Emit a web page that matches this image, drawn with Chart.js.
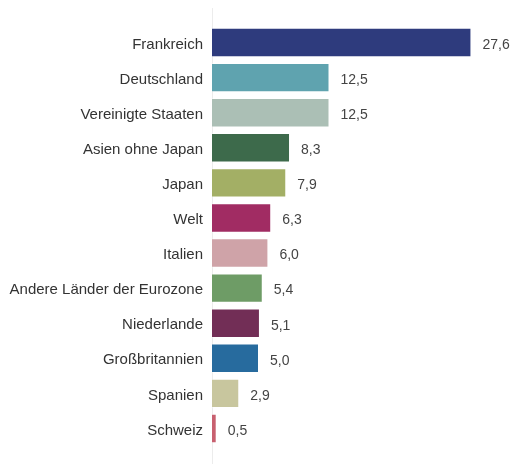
<!DOCTYPE html>
<html>
<head>
<meta charset="utf-8">
<script src="https://cdn.jsdelivr.net/npm/chart.js@4"></script>
<style>
  html, body { margin: 0; padding: 0; background: #fff; }
  #wrap { width: 511px; height: 464px; position: relative; }
</style>
</head>
<body>
<div id="wrap"><canvas id="myChart"></canvas></div>
<script>
const countries = [
  'Frankreich', 'Deutschland', 'Vereinigte Staaten', 'Asien ohne Japan', 'Japan', 'Welt',
  'Italien', 'Andere Länder der Eurozone', 'Niederlande', 'Großbritannien', 'Spanien', 'Schweiz'
];
const shares = [27.6, 12.5, 12.5, 8.3, 7.9, 6.3, 6.0, 5.4, 5.1, 5.0, 2.9, 0.5];
const barColors = [
  '#2e3b7d', '#5fa3af', '#abbfb5', '#3d6a4b', '#a3af65', '#a12c63',
  '#cfa3a8', '#6e9c66', '#722e56', '#276b9e', '#c8c69e', '#c8606f'
];

// value labels at the end of each bar, German decimal comma
const valueLabels = {
  id: 'valueLabels',
  afterDatasetsDraw(chart) {
    const ctx = chart.ctx;
    const meta = chart.getDatasetMeta(0);
    ctx.save();
    ctx.font = '14px "Liberation Sans", Arial, sans-serif';
    ctx.fillStyle = '#444';
    ctx.textBaseline = 'middle';
    meta.data.forEach((bar, i) => {
      const txt = shares[i].toFixed(1).replace('.', ',');
      ctx.fillText(txt, bar.x + 11, bar.y + 2.5);
    });
    ctx.restore();
  }
};

// thin vertical baseline running the full height
const baseline = {
  id: 'baseline',
  beforeDatasetsDraw(chart) {
    const ctx = chart.ctx;
    const x = Math.round(chart.scales.x.getPixelForValue(0)) + 0.5;
    ctx.save();
    ctx.strokeStyle = '#ececec';
    ctx.lineWidth = 1;
    ctx.beginPath();
    ctx.moveTo(x, 8);
    ctx.lineTo(x, chart.height);
    ctx.stroke();
    ctx.restore();
  }
};

new Chart(document.getElementById('myChart'), {
  type: 'bar',
  data: {
    labels: countries,
    datasets: [{
      data: shares,
      backgroundColor: barColors,
      borderColor: 'rgba(255,255,255,0.35)',
      borderWidth: 1,
      categoryPercentage: 1,
      barPercentage: 0.84
    }]
  },
  options: {
    indexAxis: 'y',
    responsive: true,
    maintainAspectRatio: false,
    animation: false,
    layout: { padding: { top: 25, bottom: 13, right: 17, left: 0 } },
    plugins: { legend: { display: false }, tooltip: { enabled: false } },
    scales: {
      x: {
        min: 0, max: 30,
        display: false,
        grid: { display: false }
      },
      y: {
        afterFit(scale) { scale.width = 212; },
        grid: { display: false, drawTicks: false },
        border: { display: false },
        ticks: {
          color: '#333',
          padding: 9,
          labelOffset: 2,
          font: { size: 15, family: '"Liberation Sans", Arial, sans-serif' }
        }
      }
    }
  },
  plugins: [valueLabels, baseline]
});
</script>
</body>
</html>
